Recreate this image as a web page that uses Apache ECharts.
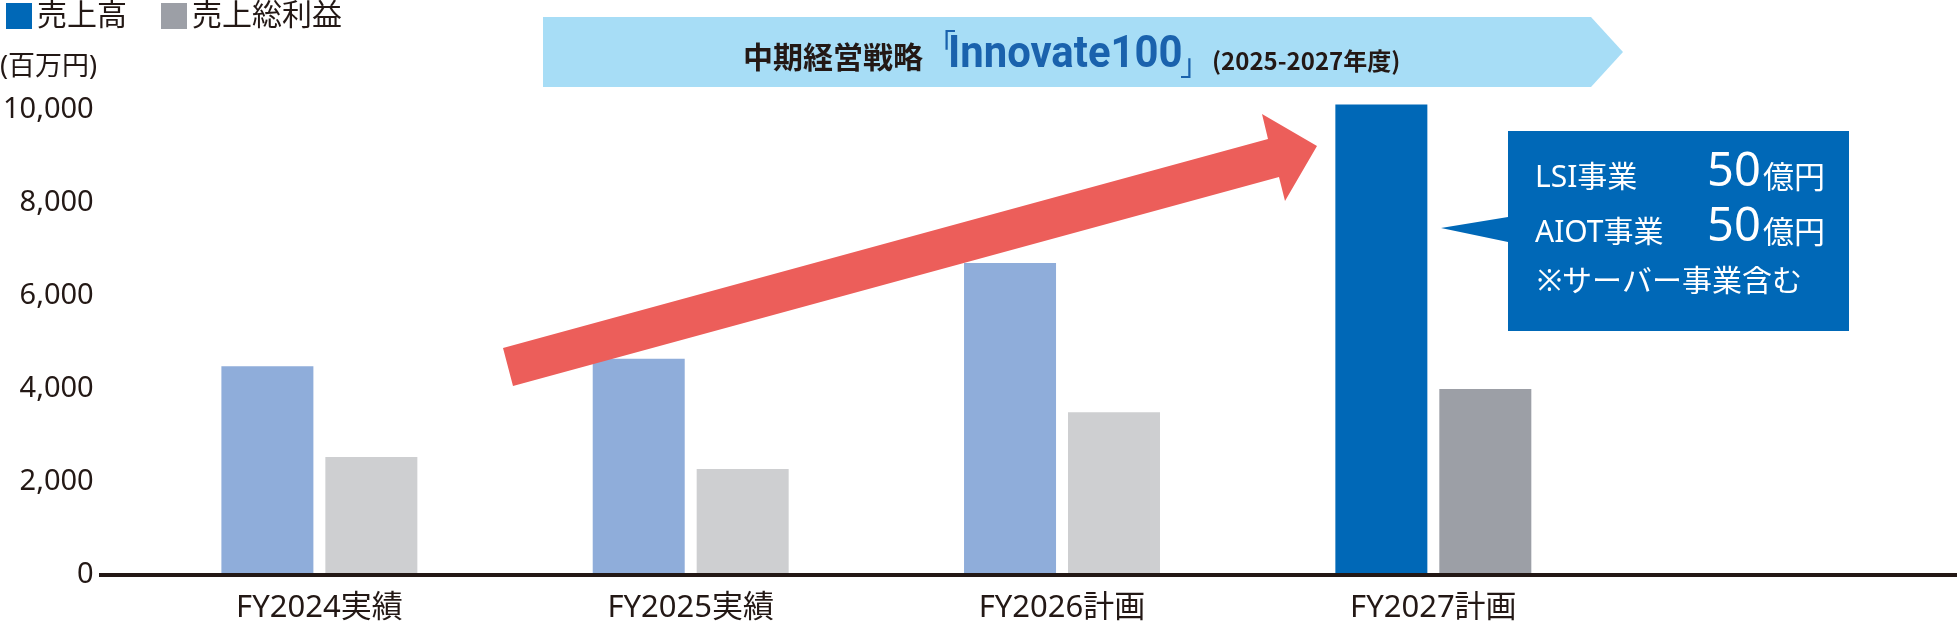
<!DOCTYPE html>
<html>
<head>
<meta charset="utf-8">
<script src="https://cdn.jsdelivr.net/npm/echarts@6/dist/echarts.min.js"></script>
<style>
html, body { margin: 0; padding: 0; background: #fff; }
#main { width: 1957px; height: 624px; }
</style>
</head>
<body>
<div id="main"></div>
<script>
// 数据
var categories = ['FY2024実績', 'FY2025実績', 'FY2026計画', 'FY2027計画'];
var sales = [4490, 4650, 6710, 10120];       // 売上高
var grossProfit = [2540, 2280, 3500, 4000];  // 売上総利益
var yTicks = [0, 2000, 4000, 6000, 8000, 10000];

var FONT = '"Noto Sans", "Noto Sans CJK JP", sans-serif';
var INK = '#231815';
// FY2027 是强调色, 其余是浅色
var salesColors = ['#8fadda', '#8fadda', '#8fadda', '#0068b7'];
var grossColors = ['#cecfd1', '#cecfd1', '#cecfd1', '#9c9fa6'];

var myChart = echarts.init(document.getElementById('main'));

var option = {
    animation: false,
    textStyle: { fontFamily: FONT },
    legend: {
        left: 6,
        top: 1,
        padding: 0,
        icon: 'rect',
        itemWidth: 26,
        itemHeight: 26,
        itemGap: 34,
        textStyle: { fontSize: 30, color: INK, fontFamily: FONT },
        data: ['売上高', '売上総利益']
    },
    grid: {
        left: 131,
        right: 338,
        top: 110,
        bottom: 49
    },
    xAxis: {
        type: 'category',
        data: categories,
        axisLine: { show: false },
        axisTick: { show: false },
        axisLabel: {
            margin: 18,
            fontSize: 31,
            color: INK,
            fontFamily: FONT
        }
    },
    yAxis: {
        type: 'value',
        min: yTicks[0],
        max: yTicks[yTicks.length - 1],
        interval: yTicks[1] - yTicks[0],
        splitLine: { show: false },
        axisLine: { show: false },
        axisTick: { show: false },
        axisLabel: {
            margin: 40,
            fontSize: 29,
            color: INK,
            fontFamily: FONT,
            formatter: function (v) { return v.toLocaleString('en-US'); }
        }
    },
    series: [
        {
            name: '売上高',
            type: 'bar',
            clip: false,
            barWidth: 92,
            barGap: '13%',
            itemStyle: { color: '#0068b7' },
            data: sales.map(function (v, i) {
                return { value: v, itemStyle: { color: salesColors[i] } };
            })
        },
        {
            name: '売上総利益',
            type: 'bar',
            clip: false,
            barWidth: 92,
            barGap: '13%',
            itemStyle: { color: '#9c9fa6' },
            data: grossProfit.map(function (v, i) {
                return { value: v, itemStyle: { color: grossColors[i] } };
            })
        }
    ]
};
myChart.setOption(option);

// 基线 (贯穿整个宽度)
var y0 = myChart.convertToPixel({ yAxisIndex: 0 }, 0);

function txt(text, x, y, size, color, weight, family) {
    return {
        type: 'text',
        z: 100,
        style: {
            text: text,
            x: x,
            y: y,
            fill: color,
            font: (weight || 'normal') + ' ' + size + 'px ' + (family || FONT),
            textVerticalAlign: 'middle'
        }
    };
}

myChart.setOption({
    graphic: [
        {
            type: 'line',
            z: 100,
            shape: { x1: 99, y1: y0, x2: 1957, y2: y0 },
            style: { stroke: INK, lineWidth: 4 }
        },
        txt('(百万円)', 0, 67, 27, INK),
        // 中期经营战略 banner
        {
            type: 'polygon',
            z: 90,
            shape: { points: [[543, 17], [1591, 17], [1623, 52], [1591, 87], [543, 87]] },
            style: { fill: '#a7ddf6' }
        },
        txt('中期経営戦略', 743, 57, 30, INK, 'bold', '"Noto Sans CJK JP"'),
        txt('「', 926, 44, 30, '#1a62ad', 'normal', '"Noto Sans CJK JP"'),
        {
            type: 'text',
            z: 100,
            x: 948,
            y: 56,
            scaleX: 0.93,
            style: {
                text: 'Innovate100',
                x: 0,
                y: 0,
                fill: '#1a62ad',
                font: 'bold 45px Roboto',
                textVerticalAlign: 'middle'
            }
        },
        txt('」', 1180, 64, 30, '#1a62ad', 'normal', '"Noto Sans CJK JP"'),
        txt('(2025-2027年度)', 1212, 61, 24, INK, 'bold', '"Noto Sans CJK JP"'),
        // 红色箭头
        {
            type: 'polygon',
            z: 100,
            shape: {
                points: [[513, 386], [503, 348], [1268, 139], [1262, 114],
                         [1317, 146], [1285, 201], [1279, 177]]
            },
            style: { fill: '#ec5e5a' }
        },
        // 说明框
        {
            type: 'polygon',
            z: 100,
            shape: {
                points: [[1508, 131], [1849, 131], [1849, 331], [1508, 331],
                         [1508, 242], [1441, 228], [1508, 217]]
            },
            style: { fill: '#0068b7' }
        },
        txt('LSI事業', 1535, 178, 30, '#fff'),
        txt('50', 1707, 173, 47, '#fff'),
        txt('億円', 1763, 179, 31, '#fff'),
        txt('AIOT事業', 1535, 233, 30, '#fff'),
        txt('50', 1707, 228, 47, '#fff'),
        txt('億円', 1763, 234, 31, '#fff'),
        txt('※サーバー事業含む', 1537, 282, 30, '#fff')
    ]
});
</script>
</body>
</html>
